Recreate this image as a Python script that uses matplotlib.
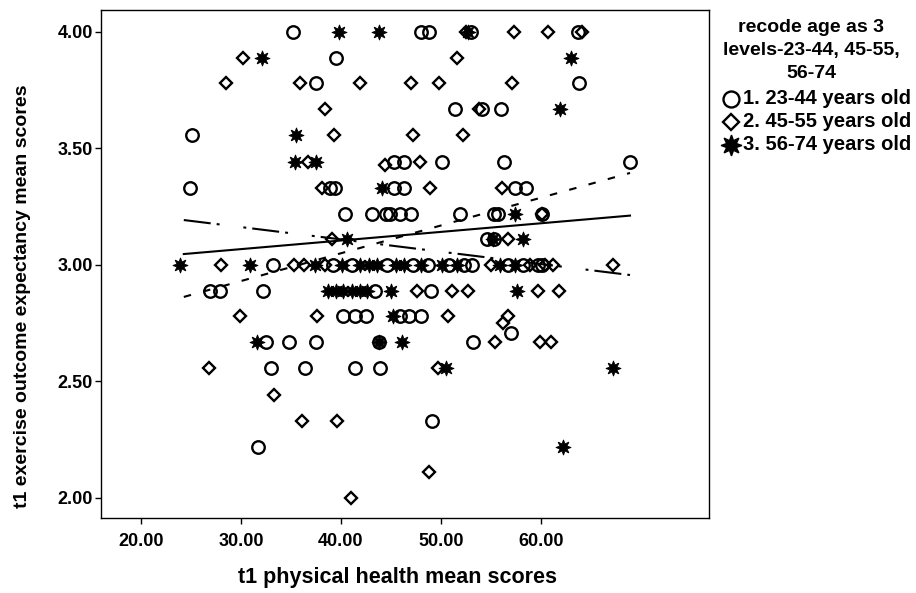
import matplotlib
matplotlib.use("Agg")
import matplotlib.pyplot as plt
from matplotlib.lines import Line2D
import numpy as np

plt.rcParams['font.family'] = ['Liberation Sans', 'DejaVu Sans']

# ---------------- data ----------------
# group 1: 23-44 years old (circles)
g1_x = [35.22, 47.98, 48.84, 53.0, 63.7,
        39.48,
        37.52, 63.75,
        51.37, 54.13, 56.01,
        25.07,
        45.26, 46.28, 50.05, 56.28, 68.92,
        24.88, 38.9, 39.4, 45.26, 46.3, 57.4, 58.54,
        40.35, 43.07, 44.5, 44.9, 45.9, 47.03, 51.94, 55.33, 55.7, 60.1,
        54.6, 55.3,
        33.18, 39.22, 41.1, 44.58, 47.22, 48.73, 50.8, 52.32, 53.07, 56.65, 58.16, 59.67, 60.1,
        26.9, 27.9, 32.2, 43.37, 49.03,
        40.24, 41.37, 42.5, 45.9, 46.84, 47.98,
        56.97,
        32.5, 34.77, 37.48, 43.8, 53.18,
        32.96, 36.35, 41.37, 43.9,
        49.1,
        31.67]
g1_y = [4.00, 4.00, 4.00, 4.00, 4.00,
        3.89,
        3.78, 3.78,
        3.67, 3.67, 3.67,
        3.56,
        3.44, 3.44, 3.44, 3.44, 3.44,
        3.33, 3.33, 3.33, 3.33, 3.33, 3.33, 3.33,
        3.22, 3.22, 3.22, 3.22, 3.22, 3.22, 3.22, 3.22, 3.22, 3.22,
        3.11, 3.11,
        3.00, 3.00, 3.00, 3.00, 3.00, 3.00, 3.00, 3.00, 3.00, 3.00, 3.00, 3.00, 3.00,
        2.89, 2.89, 2.89, 2.89, 2.89,
        2.78, 2.78, 2.78, 2.78, 2.78, 2.78,
        2.71,
        2.67, 2.67, 2.67, 2.67, 2.67,
        2.56, 2.56, 2.56, 2.56,
        2.33,
        2.22]

# group 2: 45-55 years old (diamonds)
g2_x = [52.5, 57.33, 60.73, 64.1,
        30.24, 51.56,
        28.47, 35.9, 41.86, 47.03, 49.79, 57.1,
        38.43, 53.75,
        39.3, 47.22, 52.24,
        36.65, 47.9,
        44.39,
        38.1, 48.9, 56.1,
        60.1,
        39.1, 56.7,
        27.98, 35.33, 36.28, 38.37, 54.96, 58.92, 60.43, 61.18, 67.15,
        47.6, 51.07, 52.7, 59.67, 61.75,
        29.94, 37.6, 50.7, 56.73,
        56.2,
        55.35, 59.88, 61.0,
        26.84, 49.67,
        33.26,
        36.09, 39.6,
        48.84,
        41.0]
g2_y = [4.00, 4.00, 4.00, 4.00,
        3.89, 3.89,
        3.78, 3.78, 3.78, 3.78, 3.78, 3.78,
        3.67, 3.67,
        3.56, 3.56, 3.56,
        3.44, 3.44,
        3.43,
        3.33, 3.33, 3.33,
        3.22,
        3.11, 3.11,
        3.00, 3.00, 3.00, 3.00, 3.00, 3.00, 3.00, 3.00, 3.00,
        2.89, 2.89, 2.89, 2.89, 2.89,
        2.78, 2.78, 2.78, 2.78,
        2.75,
        2.67, 2.67, 2.67,
        2.56, 2.56,
        2.44,
        2.33, 2.33,
        2.11,
        2.00]

# group 3: 56-74 years old (stars)
g3_x = [39.79, 43.75, 52.7,
        32.05, 63.0,
        61.94,
        35.52,
        35.41, 37.48,
        44.13,
        57.4,
        40.62, 55.15, 58.24,
        23.94, 30.92, 37.4, 40.05, 41.94, 42.77, 43.64, 45.52, 46.28, 47.98, 50.05, 51.56, 55.9, 57.4,
        38.7, 39.5, 40.2, 41.1, 41.85, 42.6, 45.0, 57.6,
        45.15,
        31.56, 43.82, 46.09,
        50.54, 67.15,
        62.24]
g3_y = [4.00, 4.00, 4.00,
        3.89, 3.89,
        3.67,
        3.56,
        3.44, 3.44,
        3.33,
        3.22,
        3.11, 3.11, 3.11,
        3.00, 3.00, 3.00, 3.00, 3.00, 3.00, 3.00, 3.00, 3.00, 3.00, 3.00, 3.00, 3.00, 3.00,
        2.89, 2.89, 2.89, 2.89, 2.89, 2.89, 2.89, 2.89,
        2.78,
        2.67, 2.67, 2.67,
        2.56, 2.56,
        2.22]

# fit lines (x range and y at both ends)
fit_x = [24.28, 68.9]
fit_solid_y = [3.047, 3.212]
fit_dashed_y = [2.863, 3.395]
fit_dashdot_y = [3.193, 2.957]

x_ticks = [20, 30, 40, 50, 60]
y_ticks = [2.0, 2.5, 3.0, 3.5, 4.0]

legend_title = ["recode age as 3", "levels-23-44, 45-55,", "56-74"]
group_labels = ["1. 23-44 years old", "2. 45-55 years old", "3. 56-74 years old"]

# ---------------- figure ----------------
W, H = 916, 593
AX_L, AX_R, AX_T, AX_B = 101, 709, 10, 518
fig = plt.figure(figsize=(W / 100, H / 100), dpi=100)
ax = fig.add_axes([AX_L / W, 1 - AX_B / H, (AX_R - AX_L) / W, (AX_B - AX_T) / H])

star = (8, 1, 0)
ax.plot(g1_x, g1_y, linestyle='none', marker='o', markersize=9,
        markerfacecolor='none', markeredgecolor='black', markeredgewidth=1.7)
ax.plot(g2_x, g2_y, linestyle='none', marker='D', markersize=6.5,
        markerfacecolor='none', markeredgecolor='black', markeredgewidth=1.7)
ax.plot(g3_x, g3_y, linestyle='none', marker=star, markersize=11,
        markerfacecolor='black', markeredgecolor='black', markeredgewidth=0.6)

ax.plot(fit_x, fit_solid_y, color='black', linewidth=1.5, linestyle='-')
ax.plot(fit_x, fit_dashed_y, color='black', linewidth=1.5, linestyle=(0, (3.6, 6)))
ax.plot(fit_x, fit_dashdot_y, color='black', linewidth=1.5,
        linestyle=(0, (13, 2.9, 1.4, 11.5, 1.4, 2.9)))

# x: 20.00 at px 141, 10 units per 100 px ; y: 4.00 at px 32, 0.5 units per 116.5 px
ax.set_xlim(20 + (AX_L - 141) / 10, 20 + (AX_R - 141) / 10)
ax.set_ylim(4 - (AX_B - 32) / 233, 4 + (32 - AX_T) / 233)
ax.set_xticks(x_ticks)
ax.set_xticklabels([f"{v:.2f}" for v in x_ticks])
ax.set_yticks(y_ticks)
ax.set_yticklabels([f"{v:.2f}" for v in y_ticks])
ax.tick_params(axis='both', direction='out', length=4, width=1, labelsize=13)
ax.tick_params(axis='x', pad=7)
ax.tick_params(axis='y', pad=2)
for lab in ax.get_xticklabels() + ax.get_yticklabels():
    lab.set_fontweight('bold')
for sp in ax.spines.values():
    sp.set_linewidth(1.0)

ax.set_xlabel("t1 physical health mean scores", fontsize=15.5, fontweight='bold')
ax.xaxis.set_label_coords((398 - AX_L) / (AX_R - AX_L), -(567 - AX_B) / (AX_B - AX_T))
ax.set_ylabel("t1 exercise outcome expectancy mean scores", fontsize=14, fontweight='bold')
ax.yaxis.set_label_coords(-(AX_L - 31) / (AX_R - AX_L), (AX_B - 296) / (AX_B - AX_T))

# legend (drawn at figure level)
title_y = [28, 51, 74]
for txt, yy in zip(legend_title, title_y):
    fig.text(811 / W, 1 - yy / H, txt, ha='center', va='center',
             fontsize=14, fontweight='bold')

entry_y = [99, 122, 145]
handle_styles = [
    dict(marker='o', markersize=11.5, markerfacecolor='none', markeredgecolor='black', markeredgewidth=1.7),
    dict(marker='D', markersize=8.5, markerfacecolor='none', markeredgecolor='black', markeredgewidth=1.7),
    dict(marker=star, markersize=15, markerfacecolor='black', markeredgecolor='black'),
]
for lab, yy, st in zip(group_labels, entry_y, handle_styles):
    fig.add_artist(Line2D([731 / W], [1 - yy / H], linestyle='none',
                          transform=fig.transFigure, **st))
    fig.text(743 / W, 1 - yy / H, lab, ha='left', va='center',
             fontsize=14.5, fontweight='bold')

fig.savefig("out.png", dpi=100)
